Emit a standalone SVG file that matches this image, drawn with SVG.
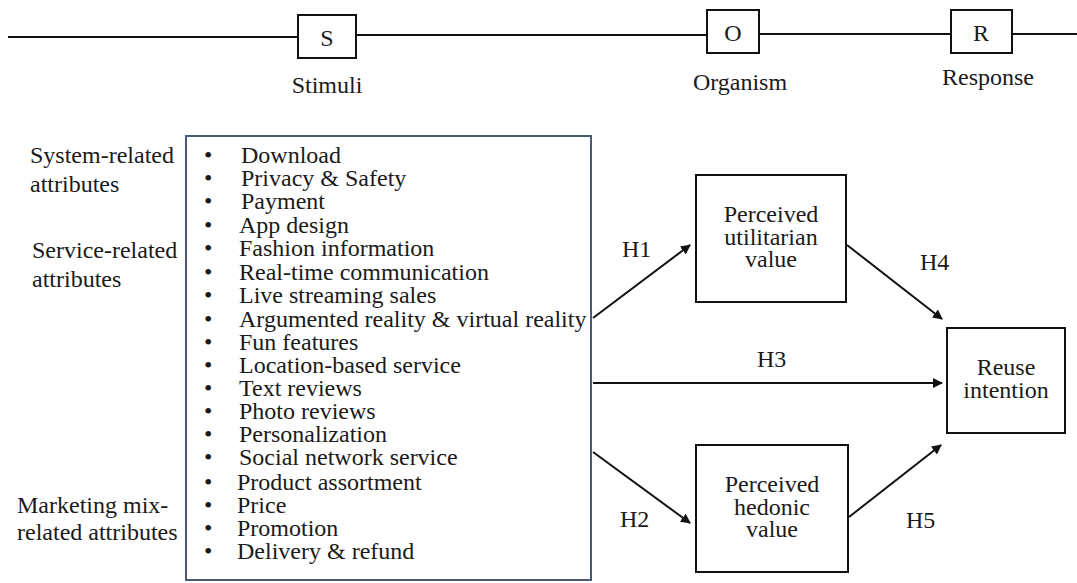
<svg xmlns="http://www.w3.org/2000/svg" width="1077" height="583" viewBox="0 0 1077 583">
<defs>
<style>
text{font-family:"Liberation Serif","Times New Roman",Times,Tinos,"Noto Serif","DejaVu Serif",serif;fill:#1a1a1a;font-size:24px}
.mid{text-anchor:middle}
.box{fill:#fff;stroke:#111;stroke-width:2}
.main{fill:#fff;stroke:#4a5a75;stroke-width:2}
.ln{stroke:#111;stroke-width:2;fill:none}
.arr{stroke:#111;stroke-width:2;fill:none;marker-end:url(#ah)}
.li{font-size:23.5px}
</style>
<marker id="ah" viewBox="0 0 10 10" refX="9" refY="5" markerWidth="5" markerHeight="5" orient="auto" markerUnits="strokeWidth">
<path d="M0,0 L10,5 L0,10 z" fill="#111"/>
</marker>
</defs>
<g id="sor-line">
<line class="ln" x1="8" y1="37" x2="298" y2="37"/>
<line class="ln" x1="356" y1="35" x2="707" y2="35"/>
<line class="ln" x1="759" y1="34" x2="951" y2="34"/>
<line class="ln" x1="1012" y1="34" x2="1077" y2="34"/>
</g>
<g id="node-S">
<rect class="box" x="298" y="15" width="58" height="43"/>
<text class="mid" x="327" y="46">S</text>
<text class="mid" x="327" y="93">Stimuli</text>
</g>
<g id="node-O">
<rect class="box" x="707" y="10" width="52" height="43"/>
<text class="mid" x="733" y="41">O</text>
<text class="mid" x="740" y="90">Organism</text>
</g>
<g id="node-R">
<rect class="box" x="951" y="10" width="61" height="43"/>
<text class="mid" x="981" y="41">R</text>
<text class="mid" x="988" y="85">Response</text>
</g>
<g id="group-labels">
<text x="30" y="163">System-related</text>
<text x="30" y="192">attributes</text>
<text x="32" y="258">Service-related</text>
<text x="32" y="287">attributes</text>
<text x="17" y="513">Marketing mix-</text>
<text x="17" y="540">related attributes</text>
</g>
<g id="node-attributes">
<rect class="main" x="186" y="136" width="405" height="444"/>
<g class="li">
<text x="204" y="163">•</text><text x="241" y="163">Download</text>
<text x="204" y="186">•</text><text x="241" y="186">Privacy &amp; Safety</text>
<text x="204" y="209">•</text><text x="241" y="209">Payment</text>
<text x="204" y="233">•</text><text x="239" y="233">App design</text>
<text x="204" y="256">•</text><text x="239" y="256">Fashion information</text>
<text x="204" y="280">•</text><text x="239" y="280">Real-time communication</text>
<text x="204" y="303">•</text><text x="239" y="303">Live streaming sales</text>
<text x="204" y="327">•</text><text x="239" y="327">Argumented reality &amp; virtual reality</text>
<text x="204" y="350">•</text><text x="239" y="350">Fun features</text>
<text x="204" y="373">•</text><text x="239" y="373">Location-based service</text>
<text x="204" y="396">•</text><text x="239" y="396">Text reviews</text>
<text x="204" y="419">•</text><text x="239" y="419">Photo reviews</text>
<text x="204" y="442">•</text><text x="239" y="442">Personalization</text>
<text x="204" y="465">•</text><text x="239" y="465">Social network service</text>
<text x="204" y="490">•</text><text x="237" y="490">Product assortment</text>
<text x="204" y="513">•</text><text x="237" y="513">Price</text>
<text x="204" y="536">•</text><text x="237" y="536">Promotion</text>
<text x="204" y="559">•</text><text x="237" y="559">Delivery &amp; refund</text>
</g>
</g>
<g id="node-utilitarian">
<rect class="box" x="696" y="175" width="150" height="127"/>
<text class="mid" x="771" y="222">Perceived</text>
<text class="mid" x="771" y="245">utilitarian</text>
<text class="mid" x="771" y="267">value</text>
</g>
<g id="node-hedonic">
<rect class="box" x="696" y="445" width="152" height="127"/>
<text class="mid" x="772" y="492">Perceived</text>
<text class="mid" x="772" y="515">hedonic</text>
<text class="mid" x="772" y="537">value</text>
</g>
<g id="node-reuse">
<rect class="box" x="947" y="328" width="118" height="105"/>
<text class="mid" x="1006" y="375">Reuse</text>
<text class="mid" x="1006" y="398">intention</text>
</g>
<g id="connectors">
<line class="arr" x1="593" y1="318" x2="690" y2="245"/>
<line class="arr" x1="847" y1="245" x2="942" y2="319"/>
<line class="arr" x1="593" y1="383" x2="942" y2="383"/>
<line class="arr" x1="593" y1="452" x2="690" y2="523"/>
<line class="arr" x1="849" y1="517" x2="941" y2="445"/>
<text x="622" y="257">H1</text>
<text x="920" y="270">H4</text>
<text x="757" y="367">H3</text>
<text x="620" y="527">H2</text>
<text x="906" y="528">H5</text>
</g>
</svg>
